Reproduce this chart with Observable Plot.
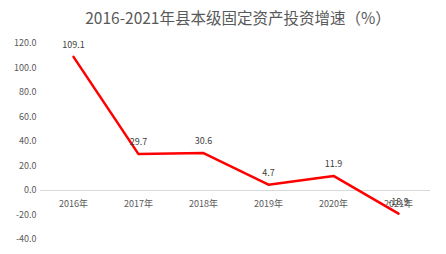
<!DOCTYPE html>
<html>
<head>
<meta charset="utf-8">
<script src="https://cdn.jsdelivr.net/npm/d3@7"></script>
<script src="https://cdn.jsdelivr.net/npm/@observablehq/plot@0.6"></script>
<style>
  body { margin: 0; background: #fff; font-family: "Noto Sans CJK SC", "Noto Sans", sans-serif; }
  #title { height: 30px; line-height: 34px; text-align: center; font-size: 15.5px; color: #595959; padding-left: 30px; }
  #chart svg { display: block; }
</style>
</head>
<body>
<div id="title">2016-2021年县本级固定资产投资增速（%）</div>
<div id="chart"></div>
<script>
const years = ["2016年", "2017年", "2018年", "2019年", "2020年", "2021年"];
const growth = [109.1, 29.7, 30.6, 4.7, 11.9, -18.9];
const yTicks = [120, 100, 80, 60, 40, 20, 0, -20, -40];

const data = years.map((y, i) => ({year: y, value: growth[i]}));

const chart = Plot.plot({
  width: 446,
  height: 224,
  marginTop: 13,
  marginBottom: 15,
  marginLeft: 40,
  marginRight: 16,
  style: {fontFamily: '"Noto Sans CJK SC", "Noto Sans", sans-serif', fontSize: "9px", color: "#595959"},
  x: {type: "point", domain: years, padding: 0.5, axis: null},
  y: {domain: [-40, 120], ticks: yTicks, tickFormat: d => d.toFixed(1), tickSize: 0, tickPadding: 4, label: null},
  marks: [
    Plot.ruleY([0], {stroke: "#d9d9d9", strokeWidth: 1}),
    Plot.text(data, {x: "year", y: () => 0, text: "year", dy: 14, fill: "#595959", fontSize: 9}),
    Plot.line(data, {x: "year", y: "value", stroke: "#ff0000", strokeWidth: 2.5}),
    Plot.text(data, {x: "year", y: "value", text: d => d.value.toFixed(1), dy: -12, fill: "#404040", fontSize: 9})
  ]
});
document.getElementById("chart").appendChild(chart);
</script>
</body>
</html>
